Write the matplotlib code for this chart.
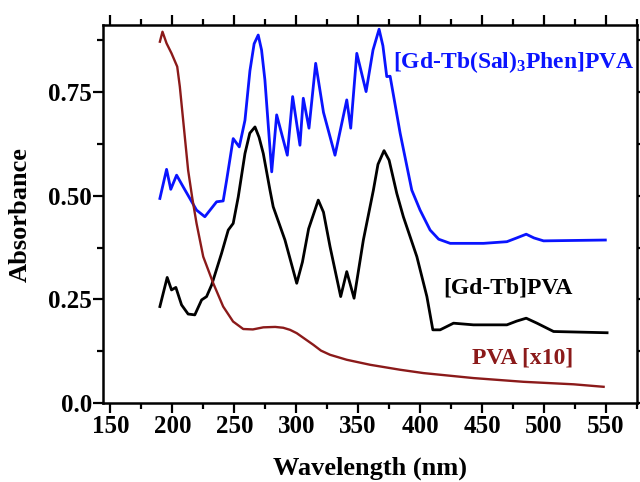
import numpy as np
import matplotlib
matplotlib.use("Agg")
import matplotlib.pyplot as plt
from matplotlib.ticker import FixedLocator, MultipleLocator, FuncFormatter


# ==========================================
# DATA
# ==========================================

wl_complex = [189.9, 195.3, 198.7, 203.4, 208.7, 214.1, 219.5, 226.2, 235.7,
              241.0, 243.8, 249.1, 254.0, 258.6, 262.6, 266.0, 269.3, 272.0,
              274.7, 280.2, 284.2, 292.8, 297.1, 303.0, 305.7, 310.3, 315.7,
              322.0, 331.3, 340.8, 344.0, 348.9, 356.4, 362.0, 366.9, 370.0,
              373.1, 375.8, 383.9, 393.3, 400.0, 408.1, 415.0, 424.3, 451.2,
              470.1, 478.0, 485.7, 492.0, 499.7, 549.6]
abs_complex = [0.493, 0.563, 0.515, 0.549, 0.521, 0.493, 0.465, 0.449, 0.485,
               0.487, 0.537, 0.637, 0.617, 0.681, 0.800, 0.865, 0.886, 0.850,
               0.778, 0.557, 0.694, 0.597, 0.738, 0.621, 0.734, 0.662, 0.818,
               0.700, 0.597, 0.730, 0.662, 0.842, 0.750, 0.850, 0.900, 0.860,
               0.786, 0.787, 0.650, 0.513, 0.465, 0.417, 0.395, 0.385, 0.385,
               0.389, 0.398, 0.407, 0.398, 0.391, 0.393]

wl_gdtb = [189.9, 195.8, 199.3, 202.8, 207.4, 212.7, 218.1, 223.6, 227.6,
           231.7, 239.7, 245.1, 249.1, 253.2, 258.6, 262.5, 266.7, 270.0,
           273.4, 278.8, 281.4, 290.9, 300.4, 305.0, 310.0, 317.8, 322.0,
           327.3, 335.9, 340.8, 346.7, 354.2, 362.3, 366.0, 370.9, 375.0,
           381.2, 386.5, 397.4, 405.5, 410.3, 416.2, 427.0, 443.1, 470.1,
           478.0, 485.7, 494.4, 507.8, 551.0]
abs_gdtb = [0.233, 0.303, 0.273, 0.279, 0.237, 0.215, 0.213, 0.249, 0.257,
            0.285, 0.361, 0.417, 0.433, 0.497, 0.601, 0.650, 0.665, 0.640,
            0.601, 0.513, 0.473, 0.393, 0.289, 0.340, 0.420, 0.489, 0.460,
            0.377, 0.257, 0.317, 0.253, 0.393, 0.513, 0.575, 0.608, 0.585,
            0.505, 0.449, 0.353, 0.257, 0.177, 0.177, 0.193, 0.189, 0.189,
            0.198, 0.205, 0.193, 0.173, 0.170]

wl_pva = [189.9, 192.0, 195.3, 199.3, 203.9, 206.0, 208.7, 212.7, 216.0,
          219.5, 224.9, 233.0, 241.0, 249.0, 257.2, 265.0, 273.4, 283.0,
          289.5, 295.0, 300.4, 313.8, 320.0, 327.3, 340.8, 359.6, 383.9,
          402.7, 443.1, 483.6, 524.0, 548.2]
abs_pva = [0.870, 0.894, 0.866, 0.842, 0.810, 0.762, 0.681, 0.561, 0.495,
           0.433, 0.353, 0.289, 0.233, 0.197, 0.179, 0.178, 0.183, 0.184,
           0.182, 0.177, 0.169, 0.141, 0.127, 0.117, 0.105, 0.093, 0.081,
           0.073, 0.061, 0.052, 0.046, 0.040]

x_ticks = [150, 200, 250, 300, 350, 400, 450, 500, 550]
y_ticks = [0.0, 0.25, 0.50, 0.75]
y_tick_labels = ["0.0", "0.25", "0.50", "0.75"]


# ==========================================
# STYLE
# ==========================================

plt.rcParams["font.family"] = ["Liberation Serif", "DejaVu Serif"]
plt.rcParams["font.weight"] = "bold"
plt.rcParams["mathtext.fontset"] = "custom"
plt.rcParams["mathtext.rm"] = "Liberation Serif:bold"
plt.rcParams["mathtext.default"] = "rm"

BLUE = "#0a14ff"
RED = "#8b1a1a"


# ==========================================
# PLOT
# ==========================================

fig = plt.figure(figsize=(6.4, 4.82), dpi=100)
ax = fig.add_axes([0.161, 0.163, 0.834, 0.785])

ax.plot(wl_complex, abs_complex, color=BLUE, lw=2.0)
ax.plot(wl_gdtb, abs_gdtb, color="black", lw=2.0)
ax.plot(wl_pva, abs_pva, color=RED, lw=1.7)

ax.set_xlim(144, 575)
ax.set_ylim(0, 0.91)

ax.xaxis.set_major_locator(FixedLocator(x_ticks))
ax.xaxis.set_minor_locator(MultipleLocator(25))
ax.yaxis.set_major_locator(FixedLocator(y_ticks))
ax.yaxis.set_major_formatter(
    FuncFormatter(lambda v, p: y_tick_labels[y_ticks.index(round(v, 2))]
                  if round(v, 2) in y_ticks else "")
)
ax.yaxis.set_minor_locator(MultipleLocator(0.125))

ax.tick_params(which="both", direction="out", top=True, right=True,
               width=1.6, labelsize=18, pad=1)
ax.tick_params(which="major", length=7)
ax.tick_params(which="minor", length=4)

for s in ax.spines.values():
    s.set_linewidth(1.8)

ax.set_xlabel("Wavelength (nm)", fontsize=19, fontweight="bold", labelpad=14)
ax.set_ylabel("Absorbance", fontsize=19, fontweight="bold", labelpad=12)

ax.text(378, 0.821, r"[Gd-Tb(Sal)$_{3}$Phen]PVA", color=BLUE,
        fontsize=17, fontweight="bold", va="center", ha="left")
ax.text(418.6, 0.277, "[Gd-Tb]PVA", color="black",
        fontsize=17, fontweight="bold", va="center", ha="left")
ax.text(441.8, 0.109, "PVA [x10]", color=RED,
        fontsize=17, fontweight="bold", va="center", ha="left")

fig.savefig("out.png", dpi=100)
plt.close(fig)
